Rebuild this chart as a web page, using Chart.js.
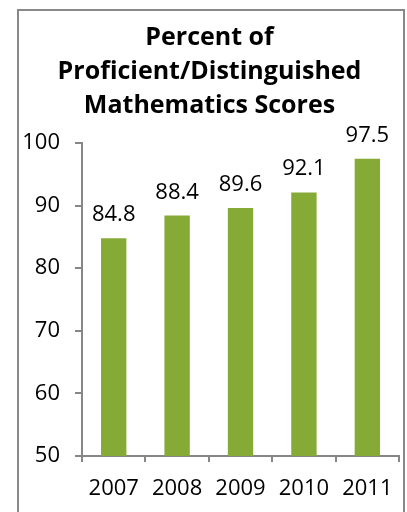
<!DOCTYPE html>
<html>
<head>
<meta charset="utf-8">
<script src="https://cdn.jsdelivr.net/npm/chart.js@4"></script>
<style>
  html, body { margin: 0; padding: 0; background: #fff; overflow: hidden; }
  #wrap { width: 407px; height: 512px; }
</style>
</head>
<body>
<div id="wrap"><canvas id="scoreChart" width="407" height="512"></canvas></div>
<script>
// chart data
const years = ['2007', '2008', '2009', '2010', '2011'];
const scores = [84.8, 88.4, 89.6, 92.1, 97.5];
const titleLines = ['Percent of', 'Proficient/Distinguished', 'Mathematics Scores'];
const yTicks = [50, 60, 70, 80, 90, 100];

const axisGray = '#868686';
const barGreen = '#86AA36';

// outer frame around the whole chart
const framePlugin = {
  id: 'frame',
  beforeDraw(chart) {
    const c = chart.ctx;
    c.save();
    c.strokeStyle = '#898989';
    c.lineWidth = 2;
    c.strokeRect(18, 10, 386, 600);
    c.restore();
  }
};

// value labels above bars
const valueLabels = {
  id: 'valueLabels',
  afterDatasetsDraw(chart) {
    const c = chart.ctx;
    const meta = chart.getDatasetMeta(0);
    c.save();
    c.font = '22px "Open Sans"';
    c.fillStyle = '#000';
    c.textAlign = 'center';
    c.textBaseline = 'alphabetic';
    meta.data.forEach((bar, i) => {
      c.fillText(scores[i].toFixed(1), bar.x, bar.y - 17);
    });
    c.restore();
  }
};

const ctx = document.getElementById('scoreChart').getContext('2d');
new Chart(ctx, {
  type: 'bar',
  data: {
    labels: years,
    datasets: [{
      data: scores,
      backgroundColor: barGreen,
      barPercentage: 0.4,
      categoryPercentage: 1
    }]
  },
  options: {
    responsive: false,
    animation: false,
    events: [],
    layout: { padding: { top: 9, left: 17, right: 5, bottom: 0 } },
    plugins: {
      legend: { display: false },
      tooltip: { enabled: false },
      title: {
        display: true,
        text: titleLines,
        color: '#000',
        font: { family: 'Open Sans', size: 25, weight: 'bold', lineHeight: 34 / 25 },
        padding: { top: 12, bottom: 20 }
      }
    },
    scales: {
      x: {
        grid: { offset: true, drawOnChartArea: false, drawTicks: true, tickLength: 6, color: axisGray, lineWidth: 2 },
        border: { color: axisGray, width: 2 },
        ticks: { color: '#000', padding: 14, font: { family: 'Open Sans', size: 22 } },
        afterFit(scale) { scale.height = 56; }
      },
      y: {
        min: 50,
        max: 100,
        afterBuildTicks(scale) { scale.ticks = yTicks.map(v => ({ value: v })); },
        grid: { drawOnChartArea: false, drawTicks: true, tickLength: 7, color: axisGray, lineWidth: 2 },
        border: { color: axisGray, width: 2 },
        ticks: { color: '#000', padding: 15, font: { family: 'Open Sans', size: 22 } },
        afterFit(scale) { scale.width = 65; }
      }
    }
  },
  plugins: [framePlugin, valueLabels]
});
</script>
</body>
</html>
